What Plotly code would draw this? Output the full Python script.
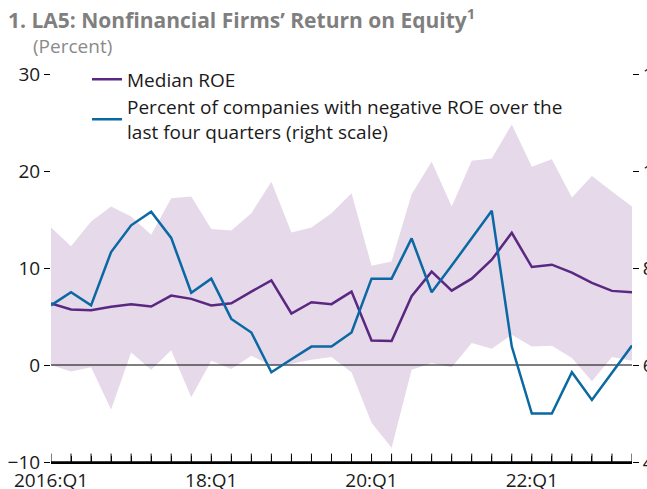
import plotly.graph_objects as go

quarters = [f"{y}:Q{q}" for y in range(2016, 2024) for q in range(1, 5)][:30]
tick_text = ["2016:Q1" if i == 0 else (f"{quarters[i][2:4]}:Q1" if (i % 8 == 0) else "") for i in range(30)]

median_roe = [6.34, 5.72, 5.65, 6.0, 6.27, 6.03, 7.16, 6.82, 6.13, 6.37,
              7.57, 8.73, 5.31, 6.47, 6.27, 7.57, 2.53, 2.47, 7.09, 9.62,
              7.67, 8.9, 10.86, 13.63, 10.1, 10.34, 9.52, 8.46, 7.64, 7.5]

band_upper = [14.18, 12.23, 14.79, 16.34, 15.31, 13.42, 17.19, 17.36, 14.01, 13.87,
              15.65, 18.9, 13.66, 14.18, 15.65, 17.71, 10.24, 10.68, 17.6, 20.96,
              16.34, 21.06, 21.3, 24.8, 20.45, 21.2, 17.26, 19.49, 17.88, 16.34]

band_lower = [0.0, -0.68, -0.24, -4.59, 1.3, -0.48, 1.51, -3.32, 0.45, -0.41,
              0.96, -0.07, 0.14, 0.55, 0.82, -0.75, -5.96, -8.53, -0.48, 0.2,
              -0.24, 2.26, 1.68, 3.12, 1.92, 1.99, 0.72, -1.68, 0.82, 0.45]

pct_negative = [7.23, 7.5, 7.23, 8.33, 8.88, 9.16, 8.62, 7.49, 7.78, 6.95,
                6.67, 5.85, 6.12, 6.38, 6.38, 6.67, 7.78, 7.78, 8.61, 7.5,
                8.05, 8.62, 9.18, 6.38, 5.0, 5.0, 5.85, 5.28, 5.84, 6.4]

left_ticks = [-10, 0, 10, 20, 30]
right_ticks = [4, 6, 8, 10, 12]

FONT = "Open Sans"
BAND = "#e5d9ea"
PURPLE = "#5a2781"
BLUE = "#0a68a3"

W, H = 647, 489
ML, MR, MT, MB = 51, 15, 74, 27
PW = W - ML - MR   # 581
PH = H - MT - MB   # 388

fig = go.Figure()
fig.add_trace(go.Scatter(x=quarters, y=band_lower, mode="lines", line=dict(width=0, color=BAND),
                         showlegend=False, hoverinfo="skip"))
fig.add_trace(go.Scatter(x=quarters, y=band_upper, mode="lines", line=dict(width=0, color=BAND),
                         fill="tonexty", fillcolor=BAND, showlegend=False, hoverinfo="skip"))
fig.add_trace(go.Scatter(x=quarters, y=[0] * len(quarters), mode="lines",
                         line=dict(width=1.2, color="black"), showlegend=False, hoverinfo="skip"))
# quarterly tick marks standing on the bottom of the axis (lower half clipped by the plot area)
fig.add_trace(go.Scatter(x=quarters, y=[left_ticks[0]] * len(quarters), mode="markers",
                         marker=dict(symbol="line-ns", size=12, line=dict(width=1, color="black")),
                         showlegend=False, hoverinfo="skip"))
fig.add_trace(go.Scatter(x=quarters, y=median_roe, mode="lines", name="Median ROE",
                         line=dict(width=2.5, color=PURPLE)))
fig.add_trace(go.Scatter(x=quarters, y=pct_negative, mode="lines", yaxis="y2",
                         name="Percent of companies with negative ROE over the<br>last four quarters (right scale)",
                         line=dict(width=2.5, color=BLUE)))

fig.update_layout(
    width=W, height=H,
    margin=dict(l=ML, r=MR, t=MT, b=MB),
    paper_bgcolor="white", plot_bgcolor="white",
    font=dict(family=FONT, size=19, color="#1a1a1a"),
    showlegend=True,
    legend=dict(x=0.062, y=1.035, xanchor="left", yanchor="top", bgcolor="rgba(0,0,0,0)",
                traceorder="normal",
                font=dict(size=19, color="#1a1a1a"), tracegroupgap=0, itemwidth=30),
    xaxis=dict(type="category", categoryorder="array", categoryarray=quarters,
               range=[0, len(quarters) - 1], tickmode="array", tickvals=quarters, ticktext=tick_text,
               ticks="inside", ticklen=6, tickcolor="black", tickwidth=1,
               showline=True, linecolor="black", linewidth=1.5, showgrid=False, zeroline=False,
               tickfont=dict(size=19), automargin="top", ticklabeloverflow="allow"),
    yaxis=dict(range=[-10, 30], tickvals=left_ticks, ticks="outside", ticklen=6, tickcolor="black",
               tickwidth=1, showline=False, showgrid=False, zeroline=False, tickfont=dict(size=19),
               automargin=False, ticklabeloverflow="allow"),
    yaxis2=dict(range=[4, 12], tickvals=right_ticks, overlaying="y", side="right",
                ticks="outside", ticklen=6, tickcolor="black", tickwidth=1,
                showline=False, showgrid=False, zeroline=False, tickfont=dict(size=19),
                automargin=False, ticklabeloverflow="allow"),
    shapes=[
        dict(type="line", xref="paper", yref="paper", x0=0, x1=1, y0=0, y1=0,
             line=dict(color="black", width=1.5), layer="above"),
    ],
    annotations=[
        dict(text="<b>1. LA5: Nonfinancial Firms’ Return on Equity<sup>1</sup></b>",
             xref="paper", yref="paper", x=(6 - ML) / PW, y=1 + (MT - 1) / PH,
             xanchor="left", yanchor="top", showarrow=False,
             font=dict(family=FONT, size=21, color="#7f7f7f")),
        dict(text="(Percent)", xref="paper", yref="paper", x=(31 - ML) / PW, y=1 + (MT - 31) / PH,
             xanchor="left", yanchor="top", showarrow=False,
             font=dict(family=FONT, size=19, color="#8a8a8a")),
    ],
)

fig.write_html("out.html", config={"displayModeBar": False},
               post_script="document.body.style.margin='0';document.body.style.overflow='hidden';")
